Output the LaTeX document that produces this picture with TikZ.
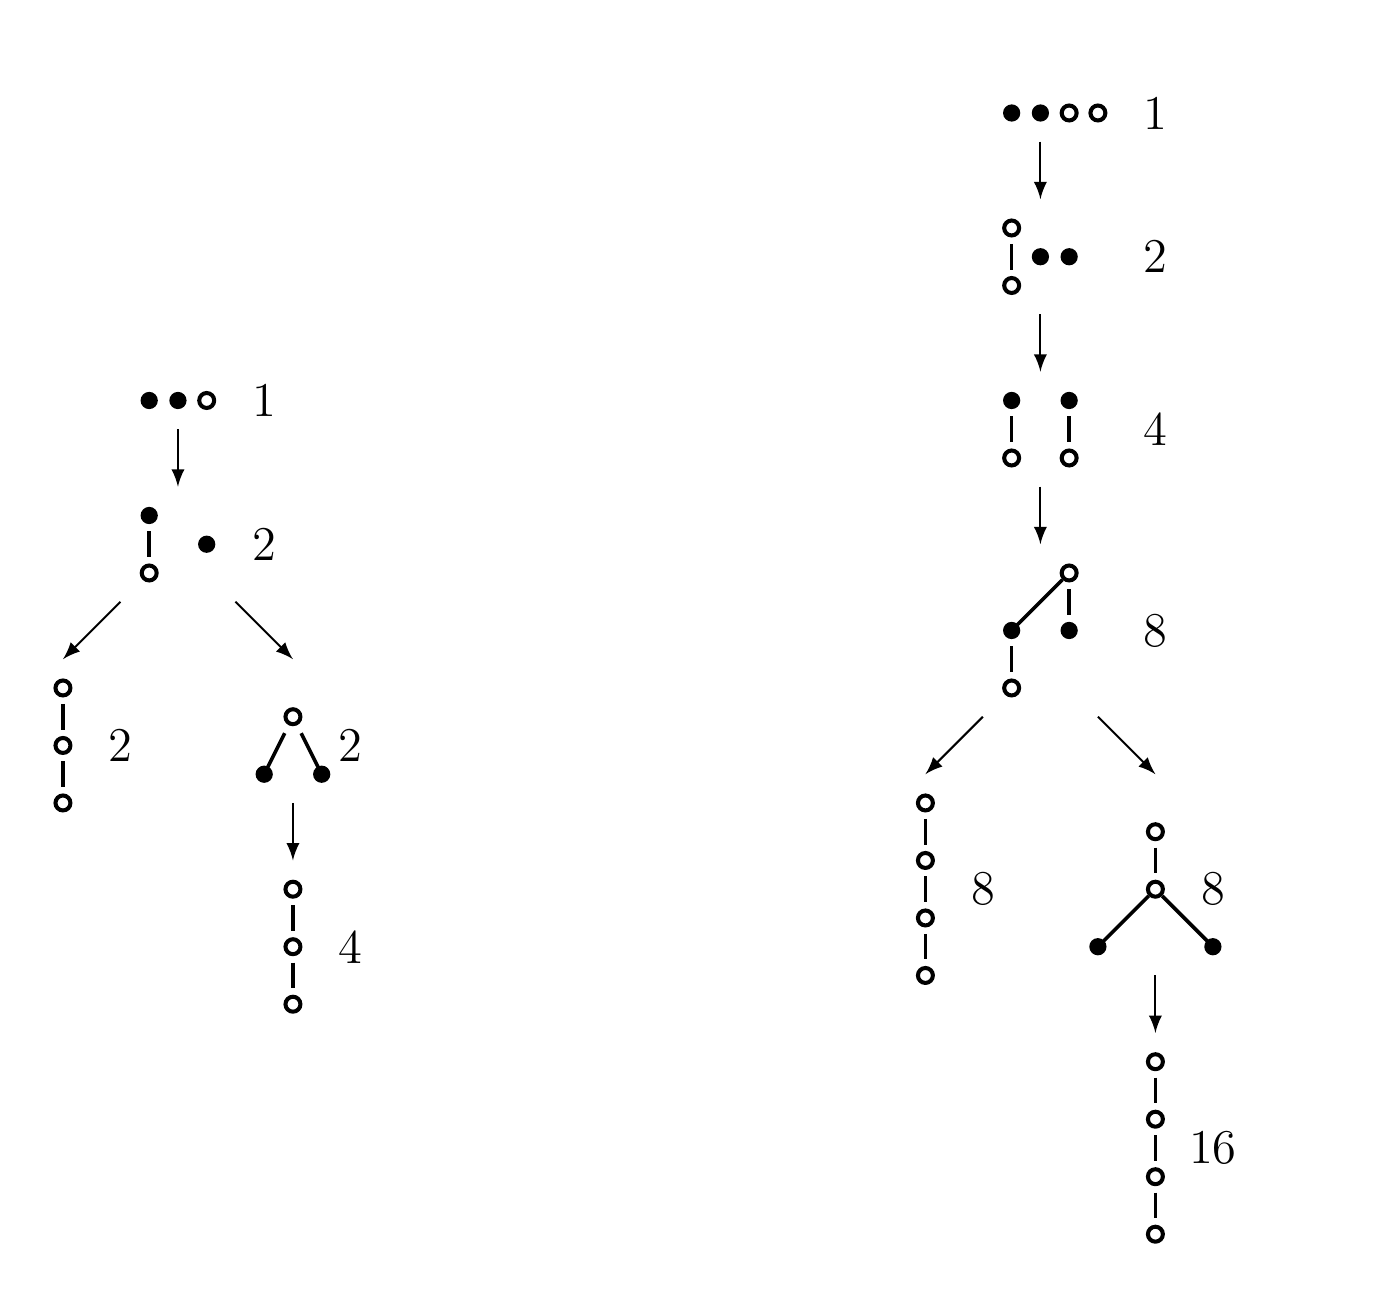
\documentclass[tikz,border=0pt]{standalone}
\usetikzlibrary{arrows}

\tikzset{
	fv/.style={circle, fill=black, inner sep=0, minimum size=0.15cm},
	ov/.style={circle, draw=black, fill=white, line width=1pt, inner sep=0, minimum size=0.13cm},
	bond/.style={line width=0.9pt, shorten <=1.6pt, shorten >=1.6pt},
	slant/.style={line width=0.9pt},
	move/.style={-latex, line width=0.5pt},
	cnt/.style={font=\large}
}

\begin{document}
\begin{tikzpicture}[x=0.25cm, y=-0.25cm]
		\useasboundingbox (-0.19,-0.93) rectangle (48.16,44.64);

		% left tree
		\node[fv] (a1) at (5,13) {};
		\node[fv] (a2) at (6,13) {};
		\node[ov] (a3) at (7,13) {};
		\node[cnt] (na) at (9,13) {1};
		\coordinate (a-out) at (6,14);
		\coordinate (b-in) at (6,16);
		\draw[move] (a-out) -- (b-in);

		\node[fv] (b1) at (5,17) {};
		\node[ov] (b2) at (5,19) {};
		\node[fv] (b3) at (7,18) {};
		\draw[bond] (b1) -- (b2);
		\node[cnt] (nb) at (9,18) {2};
		\coordinate (b-outl) at (4,20);
		\coordinate (c-in) at (2,22);
		\coordinate (b-outr) at (8,20);
		\coordinate (d-in) at (10,22);
		\draw[move] (b-outl) -- (c-in);
		\draw[move] (b-outr) -- (d-in);

		\foreach \i in {0, ..., 2} {
			\node[ov] (c\i) at (2, 23+2*\i) {};
		}
		\foreach \i/\j in {0/1, 1/2} {
			\draw[bond] (c\i) -- (c\j);
		}
		\node[cnt] (nc) at (4,25) {2};

		\node[ov] (d1) at (10,24) {};
		\node[fv] (d2) at (9,26) {};
		\node[fv] (d3) at (11,26) {};
		\draw[slant, shorten <=2.2pt] (d1) -- (d2.center);
		\draw[slant, shorten <=2.2pt] (d1) -- (d3.center);
		\node[cnt] (nd) at (12,25) {2};
		\coordinate (d-out) at (10,27);
		\coordinate (e-in) at (10,29);
		\draw[move] (d-out) -- (e-in);

		\foreach \i in {0, ..., 2} {
			\node[ov] (e\i) at (10, 30+2*\i) {};
		}
		\foreach \i/\j in {0/1, 1/2} {
			\draw[bond] (e\i) -- (e\j);
		}
		\node[cnt] (ne) at (12,32) {4};

		% right tree
		\node[fv] (p1) at (35,3) {};
		\node[fv] (p2) at (36,3) {};
		\node[ov] (p3) at (37,3) {};
		\node[ov] (p4) at (38,3) {};
		\node[cnt] (np) at (40,3) {1};
		\coordinate (p-out) at (36,4);
		\coordinate (q-in) at (36,6);
		\draw[move] (p-out) -- (q-in);

		\node[ov] (q1) at (35,7) {};
		\node[ov] (q2) at (35,9) {};
		\node[fv] (q3) at (36,8) {};
		\node[fv] (q4) at (37,8) {};
		\draw[bond] (q1) -- (q2);
		\node[cnt] (nq) at (40,8) {2};
		\coordinate (q-out) at (36,10);
		\coordinate (r-in) at (36,12);
		\draw[move] (q-out) -- (r-in);

		\node[fv] (r1) at (35,13) {};
		\node[ov] (r2) at (35,15) {};
		\node[fv] (r3) at (37,13) {};
		\node[ov] (r4) at (37,15) {};
		\draw[bond] (r1) -- (r2);
		\draw[bond] (r3) -- (r4);
		\node[cnt] (nr) at (40,14) {4};
		\coordinate (r-out) at (36,16);
		\coordinate (s-in) at (36,18);
		\draw[move] (r-out) -- (s-in);

		\node[ov] (s1) at (37,19) {};
		\node[fv] (s2) at (35,21) {};
		\node[fv] (s3) at (37,21) {};
		\node[ov] (s4) at (35,23) {};
		\draw[slant] (s1) -- (s2.center);
		\draw[bond] (s1) -- (s3);
		\draw[bond] (s2) -- (s4);
		\node[cnt] (ns) at (40,21) {8};
		\coordinate (s-outl) at (34,24);
		\coordinate (t-in) at (32,26);
		\coordinate (s-outr) at (38,24);
		\coordinate (u-in) at (40,26);
		\draw[move] (s-outl) -- (t-in);
		\draw[move] (s-outr) -- (u-in);

		\foreach \i in {0, ..., 3} {
			\node[ov] (t\i) at (32, 27+2*\i) {};
		}
		\foreach \i/\j in {0/1, 1/2, 2/3} {
			\draw[bond] (t\i) -- (t\j);
		}
		\node[cnt] (nt) at (34,30) {8};

		\node[ov] (u1) at (40,28) {};
		\node[ov] (u2) at (40,30) {};
		\node[fv] (u3) at (38,32) {};
		\node[fv] (u4) at (42,32) {};
		\draw[bond] (u1) -- (u2);
		\draw[slant] (u2) -- (u3.center);
		\draw[slant] (u2) -- (u4.center);
		\node[cnt] (nu) at (42,30) {8};
		\coordinate (u-out) at (40,33);
		\coordinate (v-in) at (40,35);
		\draw[move] (u-out) -- (v-in);

		\foreach \i in {0, ..., 3} {
			\node[ov] (v\i) at (40, 36+2*\i) {};
		}
		\foreach \i/\j in {0/1, 1/2, 2/3} {
			\draw[bond] (v\i) -- (v\j);
		}
		\node[cnt] (nv) at (42,39) {16};
	\end{tikzpicture}
\end{document}
